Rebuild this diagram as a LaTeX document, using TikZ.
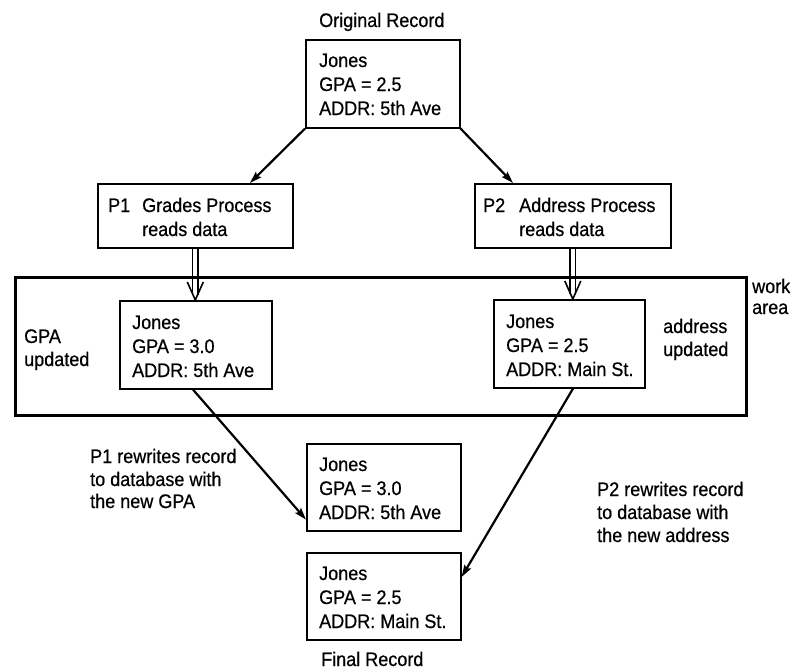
\documentclass[tikz,border=0pt]{standalone}
\usepackage{fontspec}
\setmainfont[FakeStretch=0.92,FakeBold=0.6]{Liberation Sans}
\usetikzlibrary{arrows.meta}
\begin{document}
\begin{tikzpicture}[x=1pt,y=-1pt,
 txt/.style={anchor=base west, inner sep=0pt, font=\fontsize{19.6}{22}\selectfont},
 box/.style={draw, line width=1.6pt, inner sep=0pt, anchor=north west},
 recbox/.style={box, minimum width=154pt, minimum height=87pt},
 procbox/.style={box, minimum width=195pt, minimum height=64pt},
 arr/.style={line width=2.2pt, -{Stealth[length=12pt,width=7.5pt,inset=2pt]}},
 shaft/.style={line width=1.6pt},
 vhead/.style={line width=1.6pt, line join=miter},
]
\useasboundingbox (0,0) rectangle (807,672);

% work area
\node[draw, line width=2.6pt, inner sep=0pt, anchor=north west, minimum width=731pt, minimum height=138pt] (work) at (14,276) {};

% boxes
\node[recbox, minimum height=88pt] (orig) at (305,39) {};
\node[procbox] (p1) at (97,183) {};
\node[procbox, minimum width=196pt] (p2) at (474,183) {};
\node[recbox, minimum width=152pt, minimum height=88pt] (wbL) at (119,300) {};
\node[recbox, minimum width=151pt, minimum height=88pt] (wbR) at (493,299) {};
\node[recbox] (mid) at (306,443) {};
\node[recbox] (fin) at (306,552) {};

% texts
\node[txt] (origT) at (319,27) {Original Record};
\node[txt] (o1) at (319,67) {Jones};
\node[txt] (o2) at (319,91) {GPA = 2.5};
\node[txt] (o3) at (319,115) {ADDR: 5th Ave};

\node[txt] (p1a) at (108,212) {P1};
\node[txt] (p1b) at (142,212) {Grades Process};
\node[txt] (p1c) at (142,236) {reads data};
\node[txt] (p2a) at (483,212) {P2};
\node[txt] (p2b) at (519,212) {Address Process};
\node[txt] (p2c) at (519,236) {reads data};

\node[txt] (l1) at (132,329) {Jones};
\node[txt] (l2) at (132,353) {GPA = 3.0};
\node[txt] (l3) at (132,377) {ADDR: 5th Ave};
\node[txt] (r1) at (506,328) {Jones};
\node[txt] (r2) at (506,352) {GPA = 2.5};
\node[txt] (r3) at (506,376) {ADDR: Main St.};

\node[txt] (m1) at (319,471) {Jones};
\node[txt] (m2) at (319,495) {GPA = 3.0};
\node[txt] (m3) at (319,519) {ADDR: 5th Ave};
\node[txt] (f1) at (319,580) {Jones};
\node[txt] (f2) at (319,604) {GPA = 2.5};
\node[txt] (f3) at (319,628) {ADDR: Main St.};
\node[txt] (finT) at (321,666) {Final Record};

\node[txt] (g1) at (24,343) {GPA};
\node[txt] (g2) at (24,366) {updated};
\node[txt] (ad1) at (663,333) {address};
\node[txt] (ad2) at (663,356) {updated};
\node[txt] (wa1) at (752,293) {work};
\node[txt] (wa2) at (752,314) {area};

\node[txt] (q1) at (90,463) {P1 rewrites record};
\node[txt] (q2) at (90,486) {to database with};
\node[txt] (q3) at (90,508) {the new GPA};
\node[txt] (s1) at (597,496) {P2 rewrites record};
\node[txt] (s2) at (597,519) {to database with};
\node[txt] (s3) at (597,542) {the new address};

% arrows
\draw[arr] (orig.south west) -- ([xshift=153pt]p1.north west);
\draw[arr] (orig.south east) -- ([xshift=39pt]p2.north west);
\draw[arr] ([xshift=74pt]wbL.south west) -- ([yshift=12pt]mid.south west);
\draw[arr] ([xshift=80pt]wbR.south west) -- ([yshift=-25pt]fin.north east);

% double arrows
\coordinate (tip1) at (p1.south |- wbL.north);
\coordinate (tip2) at (p2.south |- wbR.north);
\foreach \s in {-2.8,2.8}{
  \draw[shaft] ([xshift=\s pt]p1.south) -- ([xshift=\s pt,yshift=5pt]tip1);
  \draw[shaft] ([xshift=\s pt]p2.south) -- ([xshift=\s pt,yshift=5pt]tip2);
}
\draw[vhead] ([xshift=-8pt,yshift=18pt]tip1) -- (tip1) -- ([xshift=8pt,yshift=18pt]tip1);
\draw[vhead] ([xshift=-8pt,yshift=18pt]tip2) -- (tip2) -- ([xshift=8pt,yshift=18pt]tip2);
\end{tikzpicture}
\end{document}
